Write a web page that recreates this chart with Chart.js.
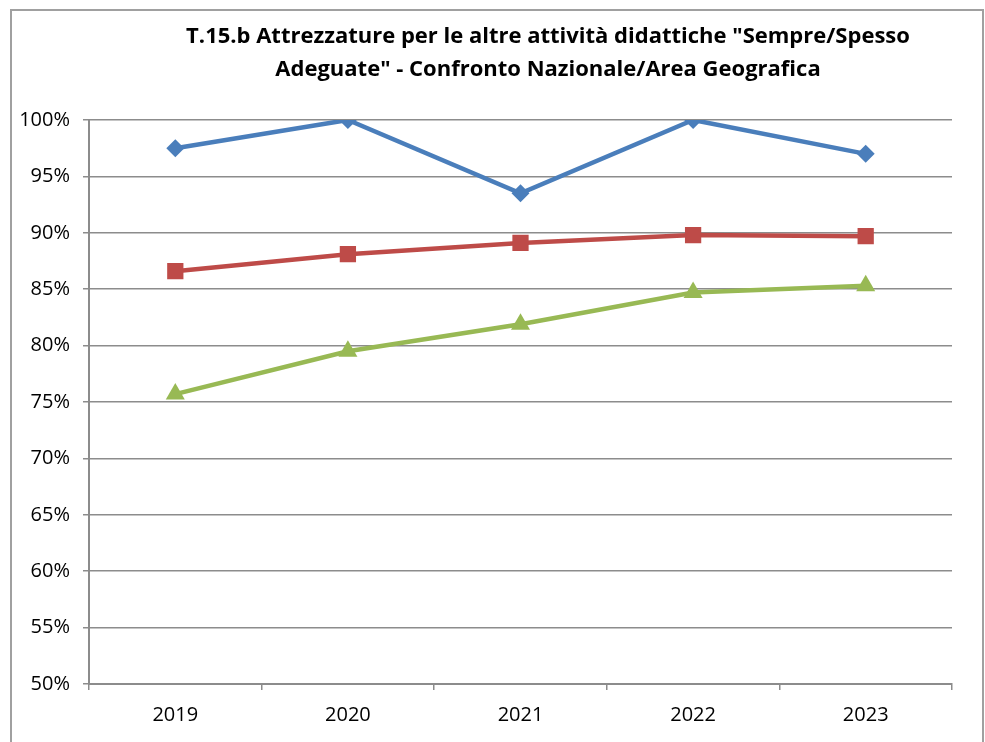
<!DOCTYPE html>
<html>
<head>
<meta charset="utf-8">
<script src="https://cdn.jsdelivr.net/npm/chart.js@4/dist/chart.umd.min.js"></script>
<style>
  html, body { margin: 0; padding: 0; background: #fff; }
  #wrap { position: relative; width: 985px; height: 742px; }
</style>
</head>
<body>
<div id="wrap"><canvas id="chart" width="985" height="742"></canvas></div>
<script>
// T.15.b - attrezzature altre attivita didattiche
const years = ['2019', '2020', '2021', '2022', '2023']
const blueValues = [97.5, 100, 93.5, 100, 97.0]
const redValues = [86.6, 88.1, 89.1, 89.8, 89.7]
const greenValues = [75.7, 79.5, 81.9, 84.7, 85.3]
const titleLines = ['T.15.b Attrezzature per le altre attività didattiche "Sempre/Spesso', 'Adeguate" - Confronto Nazionale/Area Geografica']

const font = '"Open Sans", "Noto Sans", sans-serif'
const gridColor = '#8c8c8c'

// titolo e cornice disegnati a mano
const framePlugin = {
    id: 'frame',
    afterDraw(chart) {
        let ctx = chart.ctx
        ctx.save()
        ctx.strokeStyle = '#a0a0a0'
        ctx.lineWidth = 2
        ctx.beginPath()
        ctx.moveTo(11, 742)
        ctx.lineTo(11, 10)
        ctx.lineTo(983, 10)
        ctx.lineTo(983, 742)
        ctx.stroke()
        ctx.fillStyle = '#000'
        ctx.font = 'bold 22px ' + font
        ctx.textAlign = 'center'
        ctx.textBaseline = 'middle'
        titleLines.forEach((line, i) => ctx.fillText(line, 548, 37 + i * 33))
        ctx.restore()
    }
}

new Chart(document.getElementById('chart'), {
    type: 'line',
    data: {
        labels: years,
        datasets: [
            {
                data: blueValues,
                borderColor: '#4a7ebb',
                backgroundColor: '#4a7ebb',
                borderWidth: 4.5,
                pointStyle: 'rectRot',
                pointRadius: 9,
                pointBorderWidth: 0
            },
            {
                data: redValues,
                borderColor: '#be4b48',
                backgroundColor: '#be4b48',
                borderWidth: 4.5,
                pointStyle: 'rect',
                pointRadius: 11.5,
                pointBorderWidth: 0
            },
            {
                data: greenValues,
                borderColor: '#98b954',
                backgroundColor: '#98b954',
                borderWidth: 4.5,
                pointStyle: 'triangle',
                pointRadius: 11,
                pointBorderWidth: 0
            }
        ]
    },
    options: {
        responsive: false,
        animation: false,
        layout: { padding: { left: 0, right: 33, top: 120, bottom: 0 } },
        plugins: { legend: { display: false }, title: { display: false }, tooltip: { enabled: false } },
        scales: {
            x: {
                offset: true,
                grid: { offset: true, drawOnChartArea: false, color: gridColor, lineWidth: 1.5, tickLength: 6 },
                border: { color: gridColor, width: 2 },
                ticks: { color: '#000', font: { family: font, size: 20 }, padding: 13 },
                afterFit(scale) { scale.height = 58 }
            },
            y: {
                min: 50,
                max: 100,
                ticks: { stepSize: 5, color: '#000', font: { family: font, size: 20 }, padding: 13,
                    callback: v => v + '%' },
                grid: { color: gridColor, lineWidth: 1.5, tickLength: 6 },
                border: { color: gridColor, width: 2 },
                afterFit(scale) { scale.width = 89 }
            }
        }
    },
    plugins: [framePlugin]
})
</script>
</body>
</html>
